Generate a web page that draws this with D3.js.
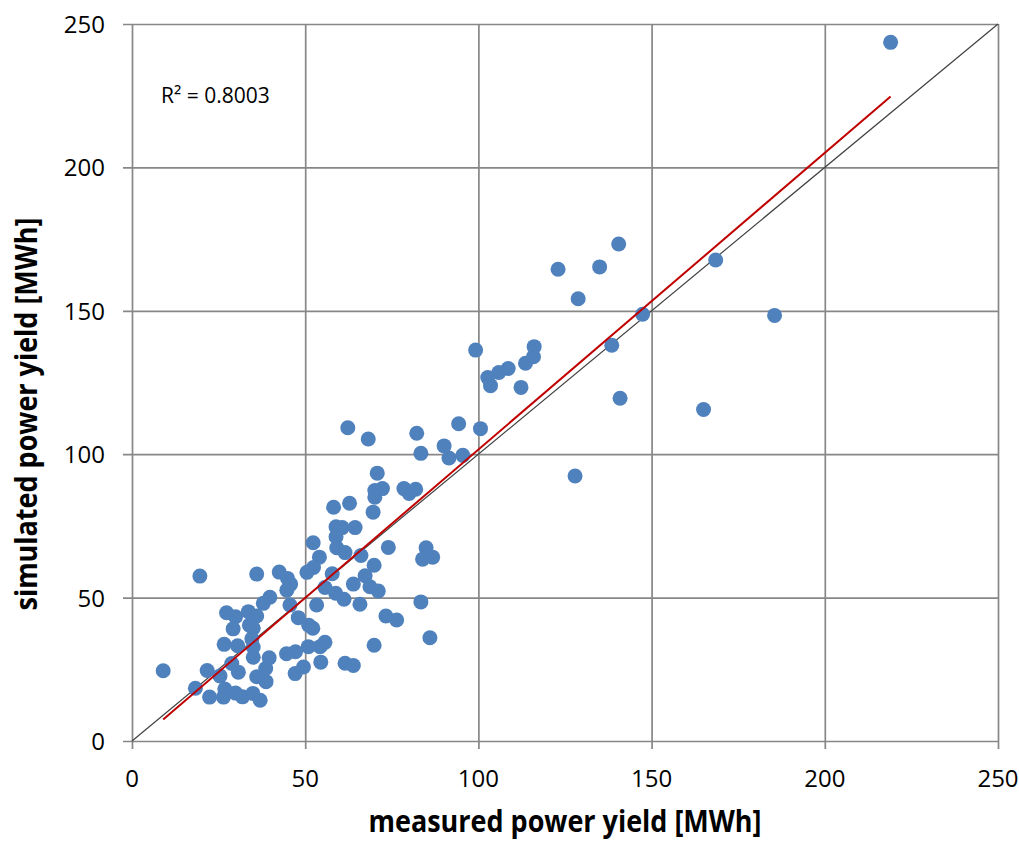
<!DOCTYPE html>
<html>
<head>
<meta charset="utf-8">
<script src="https://cdn.jsdelivr.net/npm/d3@7"></script>
<style>
  body { margin: 0; background: #fff; }
  text { font-family: "Open Sans", sans-serif; fill: #000; }
</style>
</head>
<body>
<div id="chart"></div>
<script>
// measured vs simulated power yield [MWh]
var measured = [
    219.0, 140.5, 123.0, 135.0, 128.8, 168.5, 147.4, 185.5, 138.5, 140.9,
    165.0, 127.9, 99.2, 116.1, 115.9, 113.6, 108.6, 105.9, 102.7, 103.5,
    112.3, 94.3, 100.6, 90.1, 91.5, 95.5, 62.3, 68.2, 82.2, 83.4,
    70.8, 70.1, 72.3, 70.1, 78.5, 80.0, 81.9, 58.2, 62.8, 69.6,
    58.9, 60.7, 64.4, 58.9, 52.3, 59.1, 61.5, 74.0, 66.1, 54.1,
    84.9, 83.9, 86.8, 52.4, 57.8, 69.9, 67.3, 63.9, 55.7, 58.8,
    68.7, 71.1, 61.2, 65.8, 53.3, 83.4, 73.3, 76.4, 51.0, 52.2,
    86.0, 69.9, 55.7, 54.3, 50.9, 47.2, 54.5, 49.5, 47.1, 61.5,
    63.9, 48.0, 19.6, 36.0, 42.5, 44.9, 45.8, 44.7, 50.5, 39.8,
    37.9, 45.6, 27.3, 29.9, 33.6, 36.0, 29.2, 33.9, 35.0, 34.6,
    26.6, 30.5, 35.0, 44.6, 39.6, 35.0, 28.8, 38.6, 21.7, 30.7,
    25.4, 36.0, 38.7, 18.3, 26.8, 22.4, 26.4, 29.9, 31.9, 34.9,
    37.0, 9.0
];
var simulated = [
    243.6, 173.3, 164.5, 165.3, 154.2, 167.7, 148.8, 148.4, 138.0, 119.5,
    115.6, 92.4, 136.3, 137.5, 134.0, 131.7, 129.9, 128.5, 126.7, 123.9,
    123.3, 110.6, 108.9, 102.9, 98.7, 99.6, 109.2, 105.3, 107.3, 100.3,
    93.4, 87.3, 88.0, 85.0, 88.0, 86.3, 87.8, 81.5, 82.9, 79.8,
    74.7, 74.4, 74.4, 71.2, 69.1, 67.4, 65.7, 67.5, 64.7, 64.1,
    67.4, 63.4, 64.1, 60.5, 58.3, 61.3, 57.6, 54.7, 53.5, 51.5,
    53.8, 52.3, 49.4, 47.7, 47.4, 48.5, 43.6, 42.2, 40.4, 39.3,
    36.0, 33.4, 34.4, 32.9, 32.9, 31.1, 27.5, 25.8, 23.5, 27.1,
    26.3, 43.0, 57.5, 58.2, 58.9, 56.7, 54.7, 52.6, 58.8, 50.1,
    48.0, 47.4, 44.7, 43.3, 45.1, 43.6, 39.1, 40.4, 39.3, 35.6,
    33.7, 33.2, 32.8, 30.4, 29.0, 29.2, 27.0, 25.3, 24.6, 24.0,
    22.7, 22.4, 20.7, 18.4, 18.1, 15.3, 15.3, 16.7, 15.4, 16.6,
    14.2, 24.5
];
var ticks = [0, 50, 100, 150, 200, 250];
var identity = [0, 250];
var r2Label = "R\u00b2 = 0.8003";

var margin = { top: 24, right: 21, bottom: 100, left: 132 }
const width = 1019 - margin.left - margin.right,
    height = 841 - margin.top - margin.bottom

var svg = d3.select('#chart')
    .append('svg')
    .attr('width', 1019)
    .attr('height', 841)

var plot = svg.append('g')
    .attr('transform', `translate(${margin.left},${margin.top})`);

var x = d3.scaleLinear().domain([0, 250]).range([0, width]);
var y = d3.scaleLinear().domain([0, 250]).range([height, 0]);

var gridColor = '#878787';

// gridlines (with the small outside ticks)
plot.append('g')
    .attr('transform', `translate(0,${height})`)
    .call(d3.axisBottom(x).tickValues(ticks).tickSize(-height).tickFormat(''))
    .call(g => g.select('.domain').remove())
    .call(g => g.selectAll('line').attr('stroke', gridColor).attr('stroke-width', 1.7)
        .attr('y1', 8));

plot.append('g')
    .call(d3.axisLeft(y).tickValues(ticks).tickSize(-width).tickFormat(''))
    .call(g => g.select('.domain').remove())
    .call(g => g.selectAll('line').attr('stroke', gridColor).attr('stroke-width', 1.7)
        .attr('x1', -9));

// tick labels
plot.append('g')
    .selectAll('text')
    .data(ticks)
    .enter().append('text')
    .attr('x', d => x(d))
    .attr('y', height + 46)
    .attr('text-anchor', 'middle')
    .style('font-size', '24px')
    .text(d => d);

plot.append('g')
    .selectAll('text')
    .data(ticks)
    .enter().append('text')
    .attr('x', -27)
    .attr('y', d => y(d) + 9)
    .attr('text-anchor', 'end')
    .style('font-size', '24px')
    .text(d => d);

// 1:1 line
plot.append('line')
    .attr('x1', x(identity[0])).attr('y1', y(identity[0]))
    .attr('x2', x(identity[1])).attr('y2', y(identity[1]))
    .attr('stroke', '#404040')
    .attr('stroke-width', 1.2);

// points
plot.append('g')
    .selectAll('circle')
    .data(measured.map((m, i) => [m, simulated[i]]))
    .enter().append('circle')
    .attr('cx', d => x(d[0]))
    .attr('cy', d => y(d[1]))
    .attr('r', 7.5)
    .attr('fill', '#4f81bd');

// least squares trend line over the measured range
var mx = d3.mean(measured), my = d3.mean(simulated);
var sxy = d3.sum(measured, (m, i) => (m - mx) * (simulated[i] - my));
var sxx = d3.sum(measured, m => (m - mx) * (m - mx));
var slope = sxy / sxx, intercept = my - slope * mx;
var xr = d3.extent(measured);

plot.append('path')
    .datum(xr.map(v => [v, intercept + slope * v]))
    .attr('d', d3.line().x(d => x(d[0])).y(d => y(d[1])))
    .attr('fill', 'none')
    .attr('stroke', '#c00000')
    .attr('stroke-width', 2);

plot.append('text')
    .attr('x', 29)
    .attr('y', 79)
    .style('font-size', '21px')
    .text(r2Label);

// axis titles (Calibri-like narrow bold, squeezed to the original width)
svg.append('text')
    .attr('x', margin.left + width / 2)
    .attr('y', 832)
    .attr('text-anchor', 'middle')
    .attr('textLength', 393)
    .attr('lengthAdjust', 'spacingAndGlyphs')
    .style('font-size', '30px')
    .style('font-weight', 'bold')
    .text('measured power yield [MWh]');

svg.append('text')
    .attr('transform', 'translate(37,414) rotate(-90)')
    .attr('text-anchor', 'middle')
    .attr('textLength', 393)
    .attr('lengthAdjust', 'spacingAndGlyphs')
    .style('font-size', '30px')
    .style('font-weight', 'bold')
    .text('simulated power yield [MWh]');
</script>
</body>
</html>
